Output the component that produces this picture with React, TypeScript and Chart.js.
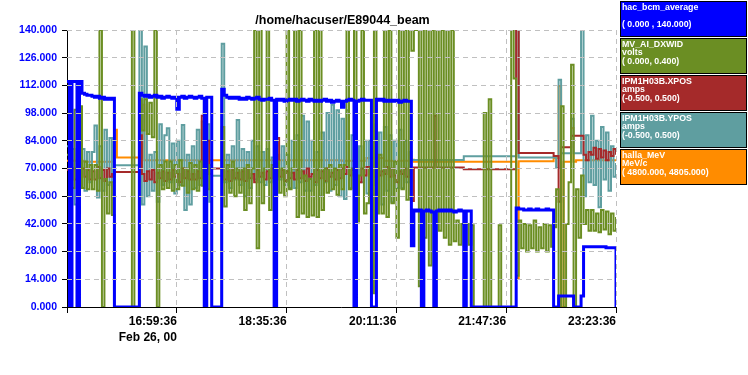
import React, { useEffect, useRef } from 'react';
import { Chart, registerables } from 'chart.js';

Chart.register(...registerables);

// ---- chart text ----
const TITLE = '/home/hacuser/E89044_beam';
const DATE_LABEL = 'Feb 26, 00';

// ---- time axis (minutes after 15:23:36) ----
const START_SECONDS = 15 * 3600 + 23 * 60 + 36;
const SPAN_MINUTES = 480;
const X_TICK_MINUTES = 96;
const SAMPLE_MINUTES = 480 / 220; // one archived sample every ~2.18 min

// ---- left axis ----
const Y_MIN = 0;
const Y_MAX = 140;
const Y_TICK_STEP = 14;

// hac_bcm_average (uA), range 0..140
const hacBcmAverage = [
  114, 0, 114, 114, 0, 114, 108, 107.5, 107, 107,
  106.5, 106, 106.5, 105.5, 106, 105, 105.5, 105, 105.5, 0,
  0, 0, 0, 0, 0, 0, 0, 0, 0, 108,
  107, 106.5, 107, 106, 106.5, 107, 106, 106.5, 105.5, 106,
  106.5, 106, 105.5, 106, 100, 106, 106.5, 105.5, 106, 106.5,
  106, 105.5, 106, 106.5, 105.5, 0, 106, 106, 0, 0,
  0, 0, 110, 107, 106, 105.5, 106, 105.5, 106, 105,
  105.5, 105, 106, 105.5, 105, 105.5, 106, 105, 104.5, 105,
  105, 105.5, 104.5, 0, 105, 104.5, 105, 104, 104.5, 105,
  104.5, 105, 104, 104.5, 105, 104.5, 104, 105, 104.5, 104,
  104.5, 104, 104.5, 105, 104, 104.5, 103.5, 104, 104.5, 104,
  101, 104, 104.5, 105, 104.5, 0, 104, 104.5, 105, 104.5,
  104.5, 104.5, 0, 0, 105, 104.5, 105, 104, 104.5, 104,
  104.5, 104, 104.5, 103.5, 104, 104.5, 104, 104, 31, 49,
  48.5, 49, 0, 48.5, 49, 48.5, 48, 0, 48.5, 49,
  48.5, 49, 48.5, 49, 48.5, 48, 48.5, 49, 48.5, 0,
  48.5, 48.5, 0, 0, 0, 0, 0, 0, 0, 0,
  0, 0, 0, 0, 0, 0, 0, 0, 0, 0,
  50, 49.5, 49.5, 49, 49, 49.5, 49, 49, 49.5, 49,
  49, 49, 49.5, 49, 49, 0, 0, 5.5, 5.5, 5.5,
  5.5, 5.5, 5.5, 0, 0, 0, 5.5, 30.5, 30.5, 30.5,
  30.5, 30.5, 30.5, 30.5, 30.5, 30.5, 30, 30, 30, 30,
  0,
];

// MV_AI_DXWID (volts), range 0..0.4
const mvAiDxwid = [
  0.22, 0.294, 0.172, 0.285, 0.175, 0.29, 0.172, 0.21, 0.17, 0.205,
  0.17, 0.205, 0.168, 0.4, 0, 0.185, 0.135, 0.18, 0.133, 0,
  0, 0, 0, 0, 0, 0, 0.4, 0, 0, 0.3,
  0.255, 0.3, 0.25, 0.295, 0.245, 0.4, 0, 0.205, 0.17, 0.21,
  0.172, 0.21, 0.168, 0.205, 0.17, 0.212, 0.175, 0.2, 0.165, 0.208,
  0.17, 0.205, 0.168, 0.21, 0.175, 0.2, 0.17, 0.205, 0, 0,
  0, 0, 0.26, 0.145, 0.205, 0.165, 0.21, 0.16, 0.2, 0.165,
  0.2, 0.14, 0.205, 0.15, 0.2, 0.4, 0.085, 0.4, 0.15, 0.2,
  0.4, 0.14, 0.205, 0.16, 0.21, 0.165, 0.2, 0.16, 0.4, 0.17,
  0.2, 0.4, 0.13, 0.4, 0.135, 0.19, 0.13, 0.185, 0.132, 0.4,
  0.13, 0.4, 0.14, 0.2, 0.165, 0.205, 0.17, 0.2, 0.162, 0.205,
  0.17, 0.205, 0.4, 0.17, 0.2, 0.4, 0.124, 0.19, 0.4, 0.135,
  0.15, 0.2, 0.02, 0.4, 0.135, 0.22, 0.135, 0.4, 0.13, 0.4,
  0.15, 0.21, 0.1, 0.4, 0.17, 0.4, 0.155, 0.4, 0.37, 0.4,
  0.4, 0.03, 0.4, 0.1, 0.4, 0.06, 0.4, 0, 0.4, 0.11,
  0.4, 0.1, 0.4, 0.09, 0.4, 0.095, 0.125, 0.09, 0.12, 0.088,
  0.12, 0.09, 0.118, 0, 0, 0, 0, 0.28, 0, 0.3,
  0, 0, 0, 0.118, 0, 0, 0, 0, 0.4, 0.33,
  0.045, 0.125, 0.085, 0.12, 0.08, 0.118, 0.085, 0.125, 0.08, 0.115,
  0.085, 0.12, 0.08, 0.118, 0.087, 0.115, 0.17, 0, 0.29, 0,
  0.12, 0.18, 0.35, 0, 0.17, 0.1, 0.19, 0.12, 0.14, 0.11,
  0.14, 0.11, 0.135, 0.108, 0.14, 0.112, 0.138, 0.105, 0.135, 0.11,
  0.13,
];

// IPM1H03B.XPOS (amps), range -0.5..0.5
const ipmXpos = [
  -0.005, -0.03, 0, -0.04, -0.01, -0.035, 0, -0.03, -0.005, -0.04,
  -0.01, -0.04, 0.005, -0.035, -0.005, -0.045, 0, -0.03, -0.02, -0.013,
  -0.013, -0.013, -0.013, -0.013, -0.013, -0.013, -0.013, -0.013, -0.013, 0.12,
  -0.02, -0.045, -0.01, -0.04, -0.005, -0.05, -0.015, -0.035, -0.01, -0.045,
  -0.015, -0.04, -0.005, -0.03, -0.02, -0.05, 0, -0.035, -0.01, -0.04,
  -0.02, -0.04, -0.01, -0.035, 0.19, -0.045, 0.1, -0.02, 0, 0,
  0, 0, 0, -0.04, -0.01, -0.045, -0.005, -0.035, -0.015, -0.04,
  -0.01, -0.045, 0, -0.035, -0.02, -0.05, -0.005, -0.03, -0.015, -0.04,
  -0.01, -0.035, 0, -0.04, 0.11, -0.03, -0.005, -0.045, -0.01, -0.035,
  -0.015, -0.04, -0.005, -0.035, -0.01, -0.045, 0, -0.03, -0.02, -0.05,
  -0.005, -0.035, -0.01, -0.045, 0, -0.03, -0.015, -0.04, -0.005, -0.035,
  0, -0.02, 0.005, -0.025, -0.005, -0.02, -0.19, -0.05, 0, -0.025,
  0.005, -0.02, -0.005, -0.03, 0, -0.025, -0.01, -0.02, 0.005, -0.03,
  0, -0.025, -0.05, -0.01, -0.02, 0, -0.03, -0.005, -0.117, 0.004,
  0.004, 0.004, 0.004, 0.004, 0.004, 0.004, 0.004, 0.19, 0.004, 0.004,
  0.004, 0.004, 0.004, 0.004, 0.004, 0.004, 0.004, 0.004, 0.004, -0.003,
  -0.003, -0.003, -0.003, -0.003, -0.003, -0.003, -0.003, -0.003, -0.003, -0.003,
  -0.003, -0.003, -0.003, -0.003, -0.003, -0.003, -0.003, -0.003, -0.003, -0.003,
  0.5, 0.056, 0.056, 0.056, 0.056, 0.056, 0.056, 0.056, 0.056, 0.056,
  0.056, 0.056, 0.056, 0.056, 0.056, 0.045, 0.045, -0.12, 0.077, 0.077,
  0.077, 0.077, 0.118, 0.118, 0.118, 0.118, 0.118, 0.05, 0.03, 0.06,
  0.05, 0.075, 0.035, 0.07, 0.04, 0.065, 0.03, 0.06, 0.045, 0.07,
  0.05,
];

// IPM1H03B.YPOS (amps), range -0.5..0.5
const ipmYpos = [
  0.08, -0.03, 0.07, -0.13, 0.05, -0.06, 0.07, -0.08, 0.06, -0.05,
  0.06, 0.155, -0.105, 0.08, -0.08, 0.14, -0.06, 0.11, -0.05, 0.012,
  0.012, 0.012, 0.012, 0.012, 0.012, 0.012, 0.012, 0.012, 0.012, 0.5,
  -0.13, 0.44, -0.1, 0.05, -0.08, 0.06, -0.12, 0.16, -0.06, 0.12,
  0.145, -0.05, 0.09, -0.09, 0.1, -0.06, 0.157, -0.15, 0.05, -0.13,
  0.08, -0.07, 0.14, -0.06, 0.17, -0.298, 0.16, -0.12, -0.026, -0.026,
  -0.026, -0.026, 0.45, -0.05, 0.05, -0.07, 0.08, -0.04, 0.175, -0.06,
  0.07, -0.1, 0.06, -0.07, 0.1, -0.04, 0.08, -0.05, 0.06, -0.06,
  0.07, -0.05, 0.04, -0.15, 0.05, -0.04, 0.08, -0.06, 0.05, -0.07,
  0.1, -0.07, 0.12, -0.05, 0.19, -0.08, 0.17, -0.08, 0.1, -0.06,
  0.06, -0.1, 0.13, -0.05, 0.2, -0.08, 0.23, -0.06, 0.21, -0.1,
  0.18, -0.11, 0.21, -0.07, 0.12, -0.168, -0.1, 0.08, -0.05, 0.1,
  -0.09, 0.1, -0.06, 0.16, -0.1, 0.13, -0.13, 0.15, -0.08, 0.12,
  -0.12, 0.1, -0.07, 0.14, -0.07, 0.1, -0.05, 0.06, 0.031, 0.031,
  0.031, 0.031, 0.031, 0.031, 0.031, 0.031, 0.031, 0.031, 0.031, 0.031,
  0.031, 0.031, 0.031, 0.031, 0.031, 0.031, 0.031, 0.031, 0.031, 0.044,
  0.044, 0.044, 0.044, 0.044, 0.044, 0.044, 0.044, 0.044, 0.044, 0.044,
  0.044, 0.044, 0.044, 0.044, 0.044, 0.044, 0.044, 0.044, 0.044, 0.044,
  0.5, 0.04, 0.04, 0.04, 0.04, 0.04, 0.04, 0.04, 0.04, 0.04,
  0.04, 0.04, 0.04, 0.04, 0.04, 0.04, 0.002, 0.32, 0.055, 0.055,
  0.055, 0.055, 0.18, 0.055, 0.055, 0.055, 0.5, -0.1, 0.12, -0.05,
  0.19, -0.06, 0.1, -0.14, 0.15, -0.04, 0.13, -0.08, 0.08, -0.03,
  0.02,
];

// halla_MeV (MeV/c), range 4800..4805
const hallaMeV = [
  4802.64, 4802.64, 4802.64, 4802.64, 4803.2, 4802.64, 4802.64, 4802.62, 4802.62, 4802.62,
  4802.62, 4802.62, 4802.62, 4802.62, 4802.62, 4802.62, 4802.62, 4802.62, 4802.62, 4803.2,
  4802.7, 4802.7, 4802.7, 4802.7, 4802.7, 4802.7, 4802.7, 4802.7, 4802.7, 4802.7,
  4803.65, 4802.65, 4802.65, 4802.65, 4802.65, 4802.65, 4802.65, 4802.65, 4802.65, 4802.65,
  4802.65, 4802.65, 4802.65, 4802.65, 4802.65, 4802.65, 4802.65, 4802.65, 4802.65, 4802.65,
  4802.65, 4802.65, 4802.65, 4802.65, 4802.65, 4802.65, 4802.65, 4802.65, 4802.65, 4802.65,
  4802.65, 4802.65, 4802.65, 4802.65, 4802.65, 4802.65, 4802.65, 4802.65, 4802.65, 4802.65,
  4802.65, 4802.65, 4802.65, 4802.65, 4802.65, 4802.65, 4802.65, 4802.65, 4802.65, 4802.65,
  4802.65, 4802.65, 4802.65, 4802.65, 4802.58, 4802.65, 4802.65, 4802.65, 4802.65, 4802.65,
  4802.65, 4802.65, 4802.65, 4802.65, 4802.65, 4802.65, 4802.65, 4802.65, 4802.65, 4802.65,
  4802.65, 4802.65, 4802.65, 4802.65, 4802.65, 4802.65, 4802.65, 4802.65, 4802.65, 4802.65,
  4802.64, 4802.64, 4802.64, 4802.64, 4802.64, 4802.64, 4802.64, 4802.64, 4802.64, 4802.64,
  4802.69, 4802.69, 4802.69, 4802.69, 4802.69, 4802.69, 4802.69, 4802.64, 4802.64, 4802.64,
  4802.64, 4802.64, 4802.64, 4802.64, 4802.64, 4802.64, 4802.64, 4802.64, 4802.66, 4802.62,
  4802.62, 4802.62, 4802.62, 4802.62, 4802.62, 4802.62, 4802.62, 4802.62, 4802.62, 4802.62,
  4802.62, 4802.62, 4802.62, 4802.62, 4802.62, 4802.62, 4802.62, 4802.62, 4802.62, 4802.62,
  4802.62, 4802.62, 4802.62, 4802.62, 4802.62, 4802.62, 4802.62, 4802.62, 4802.62, 4802.62,
  4802.62, 4802.62, 4802.62, 4802.62, 4802.62, 4802.62, 4802.62, 4802.62, 4802.62, 4802.62,
  4800.52, 4802.63, 4802.63, 4802.63, 4802.63, 4802.63, 4802.63, 4802.63, 4802.63, 4802.63,
  4802.63, 4802.63, 4802.63, 4802.63, 4802.63, 4802.69, 4802.69, 4803.99, 4800.0, 4802.62,
  4802.62, 4802.62, 4803.23, 4802.62, 4802.65, 4802.65, 4802.65, 4802.65, 4802.65, 4802.65,
  4802.65, 4802.65, 4802.65, 4802.65, 4802.65, 4802.65, 4802.65, 4802.65, 4802.65, 4802.65,
  4802.65,
];

const seriesNames = ['hac_bcm_average', 'MV_AI_DXWID', 'IPM1H03B.XPOS', 'IPM1H03B.YPOS', 'halla_MeV'];
const seriesUnits = ['', 'volts', 'amps', 'amps', 'MeV/c'];
const seriesRanges = ['( 0.000 , 140.000)', '( 0.000, 0.400)', '(-0.500, 0.500)', '(-0.500, 0.500)', '( 4800.000, 4805.000)'];
const seriesColors = ['#0000ff', '#6b8e23', '#a52a2a', '#5f9ea0', '#ff8c00'];

function formatTime(minutes: number): string {
  const total = Math.round(START_SECONDS + minutes * 60);
  const h = Math.floor(total / 3600) % 24;
  const m = Math.floor((total % 3600) / 60);
  const s = total % 60;
  return [h, m, s].map((n) => String(n).padStart(2, '0')).join(':');
}

function toPoints(values: number[]) {
  return values.map((v, i) => ({ x: i * SAMPLE_MINUTES, y: v }));
}

// solid axis lines, drawn under the traces
const axisLinePlugin = {
  id: 'axisLines',
  beforeDatasetsDraw(chart: any) {
    const { ctx, chartArea } = chart;
    ctx.save();
    ctx.strokeStyle = '#000';
    ctx.lineWidth = 1;
    ctx.beginPath();
    ctx.moveTo(chartArea.left + 0.5, chartArea.top);
    ctx.lineTo(chartArea.left + 0.5, chartArea.bottom + 0.5);
    ctx.lineTo(chartArea.right, chartArea.bottom + 0.5);
    ctx.stroke();
    ctx.restore();
  },
};

const overlayPlugin = {
  id: 'stripOverlay',
  afterDraw(chart: any) {
    const { ctx, chartArea } = chart;
    ctx.save();
    // title
    ctx.fillStyle = '#000';
    ctx.font = "bold 12.5px 'Liberation Sans', Arial, sans-serif";
    ctx.textAlign = 'center';
    ctx.textBaseline = 'alphabetic';
    ctx.fillText(TITLE, (chartArea.left + chartArea.right) / 2 + 1, 24);
    // legend boxes
    const left = chartArea.right + 4;
    const width = chart.width - left - 1;
    seriesNames.forEach((name, i) => {
      const top = 1 + i * 37;
      ctx.fillStyle = seriesColors[i];
      ctx.fillRect(left, top, width, 36);
      ctx.strokeStyle = '#000';
      ctx.lineWidth = 1;
      ctx.strokeRect(left + 0.5, top + 0.5, width - 1, 35);
      ctx.fillStyle = '#fff';
      ctx.font = "bold 8.8px 'Liberation Sans', Arial, sans-serif";
      ctx.textAlign = 'left';
      [name, seriesUnits[i], seriesRanges[i]].forEach((t, j) => {
        if (t) ctx.fillText(t, left + 2, top + 8.5 + j * 8.7);
      });
    });
    ctx.restore();
  },
};

const gridColor = (c: any) => (c.tick && c.tick.value === 0 ? 'rgba(0,0,0,0)' : '#c0c0c0');

export default function App() {
  const canvasRef = useRef<HTMLCanvasElement | null>(null);

  useEffect(() => {
    const canvas = canvasRef.current;
    if (!canvas) return;
    const axisIds = ['y', 'yVolts', 'yXpos', 'yYpos', 'yMeV'];
    const values = [hacBcmAverage, mvAiDxwid, ipmXpos, ipmYpos, hallaMeV];
    // lower order is drawn on top: beam current, width monitor, x, y, energy
    const drawOrder = [0, 1, 2, 3, 4];
    const widths = [3, 2, 2, 2, 2];
    const chart = new Chart(canvas, {
      type: 'line',
      data: {
        datasets: values.map((v, i) => ({
          label: seriesNames[i],
          data: toPoints(v),
          yAxisID: axisIds[i],
          borderColor: seriesColors[i],
          backgroundColor: seriesColors[i],
          borderWidth: widths[i],
          stepped: true,
          pointRadius: 0,
          fill: false,
          order: drawOrder[i],
        })),
      },
      options: {
        responsive: false,
        maintainAspectRatio: false,
        animation: false,
        events: [],
        layout: { padding: { left: 0, top: 30, right: 132, bottom: 0 } },
        plugins: {
          legend: { display: false },
          title: { display: false },
          tooltip: { enabled: false },
        },
        scales: {
          x: {
            type: 'linear',
            min: 0,
            max: SPAN_MINUTES,
            afterFit: (s: any) => { s.height = 68; },
            ticks: {
              stepSize: X_TICK_MINUTES,
              autoSkip: false,
              maxRotation: 0,
              align: 'end',
              padding: 1,
              color: '#000',
              font: { family: "'Liberation Sans', Arial, sans-serif", size: 12, weight: 'bold', lineHeight: 16 / 12 },
              callback: (v: any, idx: number) => {
                const n = Number(v);
                if (n === 0) return '';
                return idx === 1 ? [formatTime(n), DATE_LABEL] : formatTime(n);
              },
            },
            grid: { color: gridColor, lineWidth: 1, tickColor: '#000', tickLength: 6, z: 1 },
            border: { display: false, dash: [5, 4] },
          },
          y: {
            type: 'linear',
            position: 'left',
            min: Y_MIN,
            max: Y_MAX,
            afterFit: (s: any) => { s.width = 67; },
            ticks: {
              stepSize: Y_TICK_STEP,
              padding: 5,
              color: '#0000ff',
              font: { family: "'Liberation Sans', Arial, sans-serif", size: 10.5, weight: 'bold' },
              callback: (v: any) => Number(v).toFixed(3),
            },
            grid: { color: gridColor, lineWidth: 1, tickColor: '#000', tickLength: 5, z: 1 },
            border: { display: false, dash: [5, 4] },
          },
          yVolts: { type: 'linear', display: false, min: 0, max: 0.4 },
          yXpos: { type: 'linear', display: false, min: -0.5, max: 0.5 },
          yYpos: { type: 'linear', display: false, min: -0.5, max: 0.5 },
          yMeV: { type: 'linear', display: false, min: 4800, max: 4805 },
        },
      },
      plugins: [axisLinePlugin, overlayPlugin],
    } as any);
    return () => chart.destroy();
  }, []);

  return (
    <div style={{ position: 'absolute', left: 0, top: 0, width: 748, height: 375, background: '#fff' }}>
      <canvas ref={canvasRef} width={748} height={375} style={{ display: 'block', width: 748, height: 375 }} />
    </div>
  );
}
